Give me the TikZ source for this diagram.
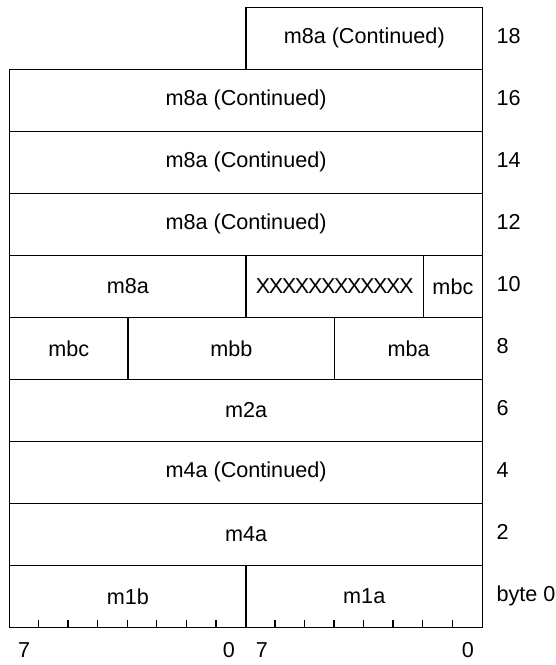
\documentclass[tikz,border=0pt]{standalone}
\usepackage{fontspec}
\setmainfont{Liberation Sans}
\begin{document}
\begin{tikzpicture}[
	x=0.591cm, y=1.24cm, line width=0.75pt,
	every node/.style={font=\fontsize{12.3}{14}\selectfont},
	field/.style={draw, rectangle, inner sep=0pt, anchor=south west,
		minimum height=1.24cm, minimum width=#1*0.591cm},
	offset/.style={anchor=base west, inner sep=0pt},
	bitno/.style={anchor=center, inner sep=0pt}]
	\useasboundingbox (-0.18cm,-0.74cm) rectangle (10.94cm,12.56cm);
	% words, one row per two bytes, bit 7 of the high byte on the left
	\node[field=8] (f0b) at (0,0) {m1b};
	\node[field=8] (f0a) at (8,0) {m1a};
	\node[field=16] (f2) at (0,1) {m4a};
	\node[field=16] (f4) at (0,2) {m4a (Continued)};
	\node[field=16] (f6) at (0,3) {m2a};
	\node[field=4] (f8c) at (0,4) {mbc};
	\node[field=7] (f8b) at (4,4) {mbb};
	\node[field=5] (f8a) at (11,4) {mba};
	\node[field=8] (f10a) at (0,5) {m8a};
	\node[field=6] (f10x) at (8,5) {\addfontfeature{LetterSpace=-6.5}XXXXXXXXXXXX};
	\node[field=2] (f10c) at (14,5) {mbc};
	\node[field=16] (f12) at (0,6) {m8a (Continued)};
	\node[field=16] (f14) at (0,7) {m8a (Continued)};
	\node[field=16] (f16) at (0,8) {m8a (Continued)};
	\node[field=8] (f18) at (8,9) {m8a (Continued)};
	% bit ticks along the bottom
	\foreach \i in {1,...,7,9,10,...,15}
		\draw (\i,0) -- (\i,0.13);
	% byte offsets
	\foreach \r/\t in {0/byte 0,1/2,2/4,3/6,4/8,5/10,6/12,7/14,8/16,9/18}
		\node[offset] (o\r) at (16.48,\r+0.42) {\t};
	% bit numbers
	\node[bitno] (b7l) at (0.51,-0.355) {7};
	\node[bitno] (b0l) at (7.44,-0.355) {0};
	\node[bitno] (b7r) at (8.56,-0.355) {7};
	\node[bitno] (b0r) at (15.53,-0.355) {0};
\end{tikzpicture}
\end{document}
